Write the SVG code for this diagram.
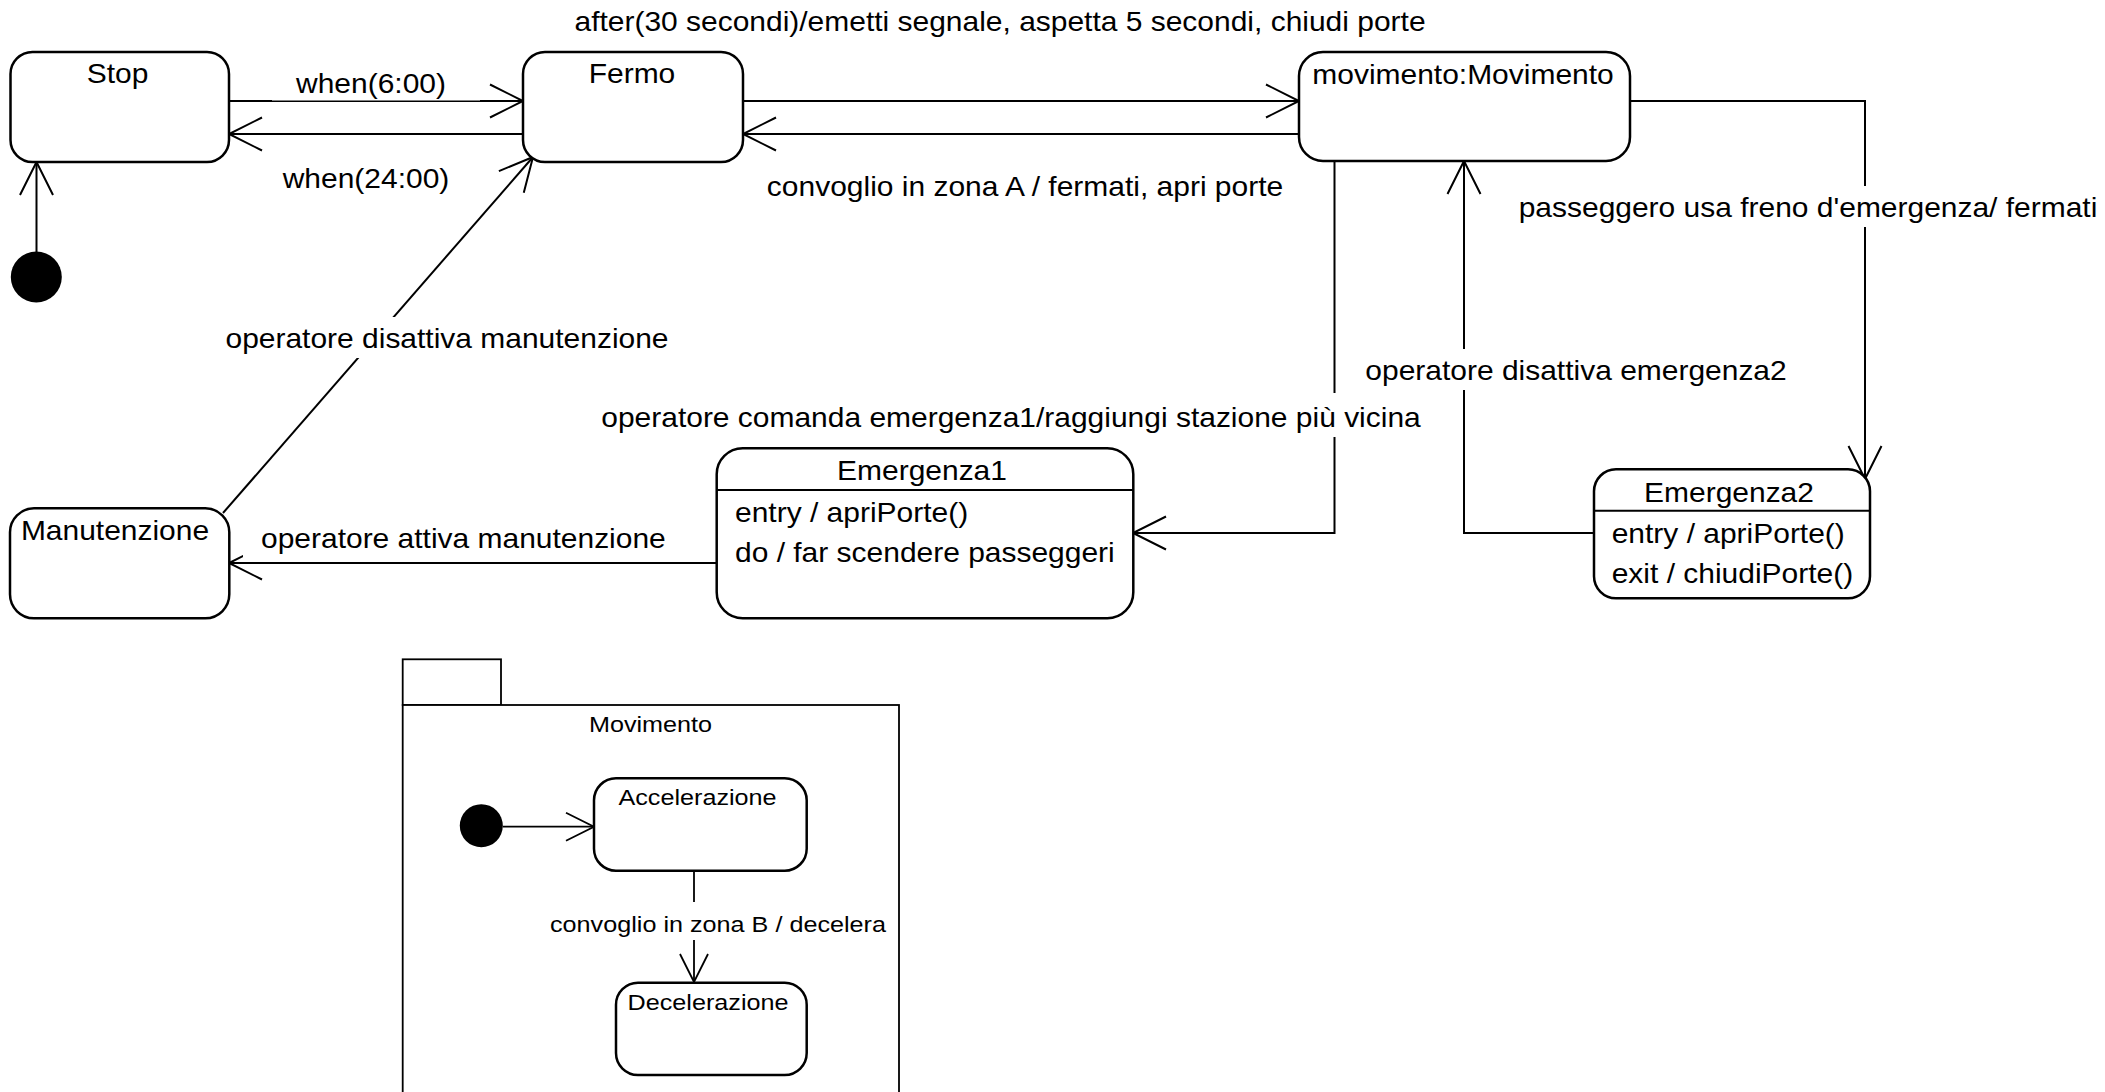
<svg xmlns="http://www.w3.org/2000/svg" width="2105" height="1092" viewBox="0 0 2105 1092">
<style>
  .st { fill: #fff; stroke: #000; stroke-width: 2.5; }
  .pk { fill: #fff; stroke: #000; stroke-width: 1.8; }
  .dv { stroke: #000; stroke-width: 2; }
  .ln { fill: none; stroke: #000; stroke-width: 2; }
  .ln2 { fill: none; stroke: #000; stroke-width: 1.8; }
  .bg { fill: #fff; stroke: none; }
  text { font-family: "Liberation Sans", Arial, sans-serif; fill: #000; }
  .t { font-size: 27px; }
  .ts { font-size: 22.5px; }
  .c { text-anchor: middle; }
  .s { text-anchor: start; }
</style>
<defs>
  <marker id="arr" markerUnits="userSpaceOnUse" viewBox="-40 -20 42 40" markerWidth="42" markerHeight="40" refX="0" refY="0" orient="auto" overflow="visible">
    <path d="M-33,-16.5 L0,0 L-33,16.5" fill="none" stroke="#000" stroke-width="2"/>
  </marker>
  <marker id="arr2" markerUnits="userSpaceOnUse" viewBox="-40 -20 42 40" markerWidth="42" markerHeight="40" refX="0" refY="0" orient="auto" overflow="visible">
    <path d="M-28,-14 L0,0 L-28,14" fill="none" stroke="#000" stroke-width="1.8"/>
  </marker>
</defs>
<rect width="2105" height="1092" fill="#fff"/>

<g id="pkg-movimento">
  <rect class="pk" x="402.7" y="659.3" width="98.3" height="45.7"/>
  <rect class="pk" x="402.7" y="705" width="496.3" height="400"/>
  <text class="ts c" transform="translate(650.5,731.7) scale(1.12,1)">Movimento</text>
</g>

<g id="connectors">
  <line class="ln" x1="36.5" y1="252" x2="36.5" y2="162" marker-end="url(#arr)"/>
  <line class="ln" x1="229" y1="101" x2="523" y2="101" marker-end="url(#arr)"/>
  <line class="ln" x1="523" y1="134" x2="229" y2="134" marker-end="url(#arr)"/>
  <line class="ln" x1="743" y1="101" x2="1299" y2="101" marker-end="url(#arr)"/>
  <line class="ln" x1="1299" y1="134" x2="743" y2="134" marker-end="url(#arr)"/>
  <polyline class="ln" points="1630,101 1865,101 1865,479" marker-end="url(#arr)"/>
  <polyline class="ln" points="1594,533 1464,533 1464,161" marker-end="url(#arr)"/>
  <polyline class="ln" points="1334.5,161 1334.5,533 1133,533" marker-end="url(#arr)"/>
  <line class="ln" x1="717" y1="563" x2="229" y2="563" marker-end="url(#arr)"/>
  <line class="ln" x1="223" y1="513" x2="533" y2="157" marker-end="url(#arr)"/>
  <line class="ln2" x1="502.7" y1="826.7" x2="594" y2="826.7" marker-end="url(#arr2)"/>
  <line class="ln2" x1="694" y1="871" x2="694" y2="982" marker-end="url(#arr2)"/>

  <rect class="bg" x="272" y="62" width="208" height="38.5"/>
  <rect class="bg" x="205" y="317" width="485" height="41"/>
  <rect class="bg" x="243" y="518" width="441" height="39"/>
  <rect class="bg" x="585" y="393" width="852" height="44"/>
  <rect class="bg" x="1350" y="349" width="452" height="41"/>
  <rect class="bg" x="1503" y="186" width="602" height="41"/>
  <rect class="bg" x="542" y="902" width="353" height="38"/>

  <text class="t c" transform="translate(1000,31) scale(1.11,1)">after(30 secondi)/emetti segnale, aspetta 5 secondi, chiudi porte</text>
  <text class="t c" transform="translate(371,93) scale(1.11,1)">when(6:00)</text>
  <text class="t c" transform="translate(366,188) scale(1.11,1)">when(24:00)</text>
  <text class="t c" transform="translate(1025,196) scale(1.11,1)">convoglio in zona A / fermati, apri porte</text>
  <text class="t c" transform="translate(1808,217) scale(1.11,1)">passeggero usa freno d'emergenza/ fermati</text>
  <text class="t c" transform="translate(1576,380) scale(1.11,1)">operatore disattiva emergenza2</text>
  <text class="t c" transform="translate(1011,427) scale(1.11,1)">operatore comanda emergenza1/raggiungi stazione più vicina</text>
  <text class="t c" transform="translate(447,348) scale(1.11,1)">operatore disattiva manutenzione</text>
  <text class="t c" transform="translate(463.4,548) scale(1.11,1)">operatore attiva manutenzione</text>
  <text class="ts c" transform="translate(718,931.7) scale(1.12,1)">convoglio in zona B / decelera</text>
</g>

<g id="init">
  <circle cx="36.3" cy="277" r="25.5" fill="#000"/>
</g>

<g id="stop">
  <rect class="st" x="10.5" y="52" width="218.5" height="110" rx="22" ry="22"/>
  <text class="t c" transform="translate(117.5,83.3) scale(1.11,1)">Stop</text>
</g>

<g id="fermo">
  <rect class="st" x="523" y="52" width="220" height="110" rx="22" ry="22"/>
  <text class="t c" transform="translate(632,83.3) scale(1.11,1)">Fermo</text>
</g>

<g id="movimento">
  <rect class="st" x="1299" y="52" width="331" height="109" rx="24" ry="24"/>
  <text class="t c" transform="translate(1463,84) scale(1.11,1)">movimento:Movimento</text>
</g>

<g id="manutenzione">
  <rect class="st" x="10" y="508.3" width="219.3" height="110" rx="24" ry="24"/>
  <text class="t c" transform="translate(115,540) scale(1.11,1)">Manutenzione</text>
</g>

<g id="emergenza1">
  <rect class="st" x="716.7" y="448.3" width="416.6" height="170" rx="26" ry="26"/>
  <line class="dv" x1="716.7" y1="490" x2="1133.3" y2="490"/>
  <text class="t c" transform="translate(922,480) scale(1.11,1)">Emergenza1</text>
  <text class="t s" transform="translate(735,522) scale(1.11,1)">entry / apriPorte()</text>
  <text class="t s" transform="translate(735,562) scale(1.11,1)">do / far scendere passeggeri</text>
</g>

<g id="emergenza2">
  <rect class="st" x="1594" y="469.3" width="276" height="129" rx="22" ry="22"/>
  <line class="dv" x1="1594" y1="510.7" x2="1870" y2="510.7"/>
  <text class="t c" transform="translate(1729,501.7) scale(1.11,1)">Emergenza2</text>
  <text class="t s" transform="translate(1611.7,542.7) scale(1.11,1)">entry / apriPorte()</text>
  <text class="t s" transform="translate(1611.7,582.7) scale(1.11,1)">exit / chiudiPorte()</text>
</g>

<g id="init-movimento">
  <circle cx="481.3" cy="825.7" r="21.5" fill="#000"/>
</g>

<g id="accelerazione">
  <rect class="st" x="594" y="778.3" width="212.7" height="92.4" rx="22" ry="22"/>
  <text class="ts c" transform="translate(697.5,805) scale(1.12,1)">Accelerazione</text>
</g>

<g id="decelerazione">
  <rect class="st" x="616" y="982.7" width="190.7" height="92.3" rx="22" ry="22"/>
  <text class="ts c" transform="translate(708,1010) scale(1.12,1)">Decelerazione</text>
</g>
</svg>
